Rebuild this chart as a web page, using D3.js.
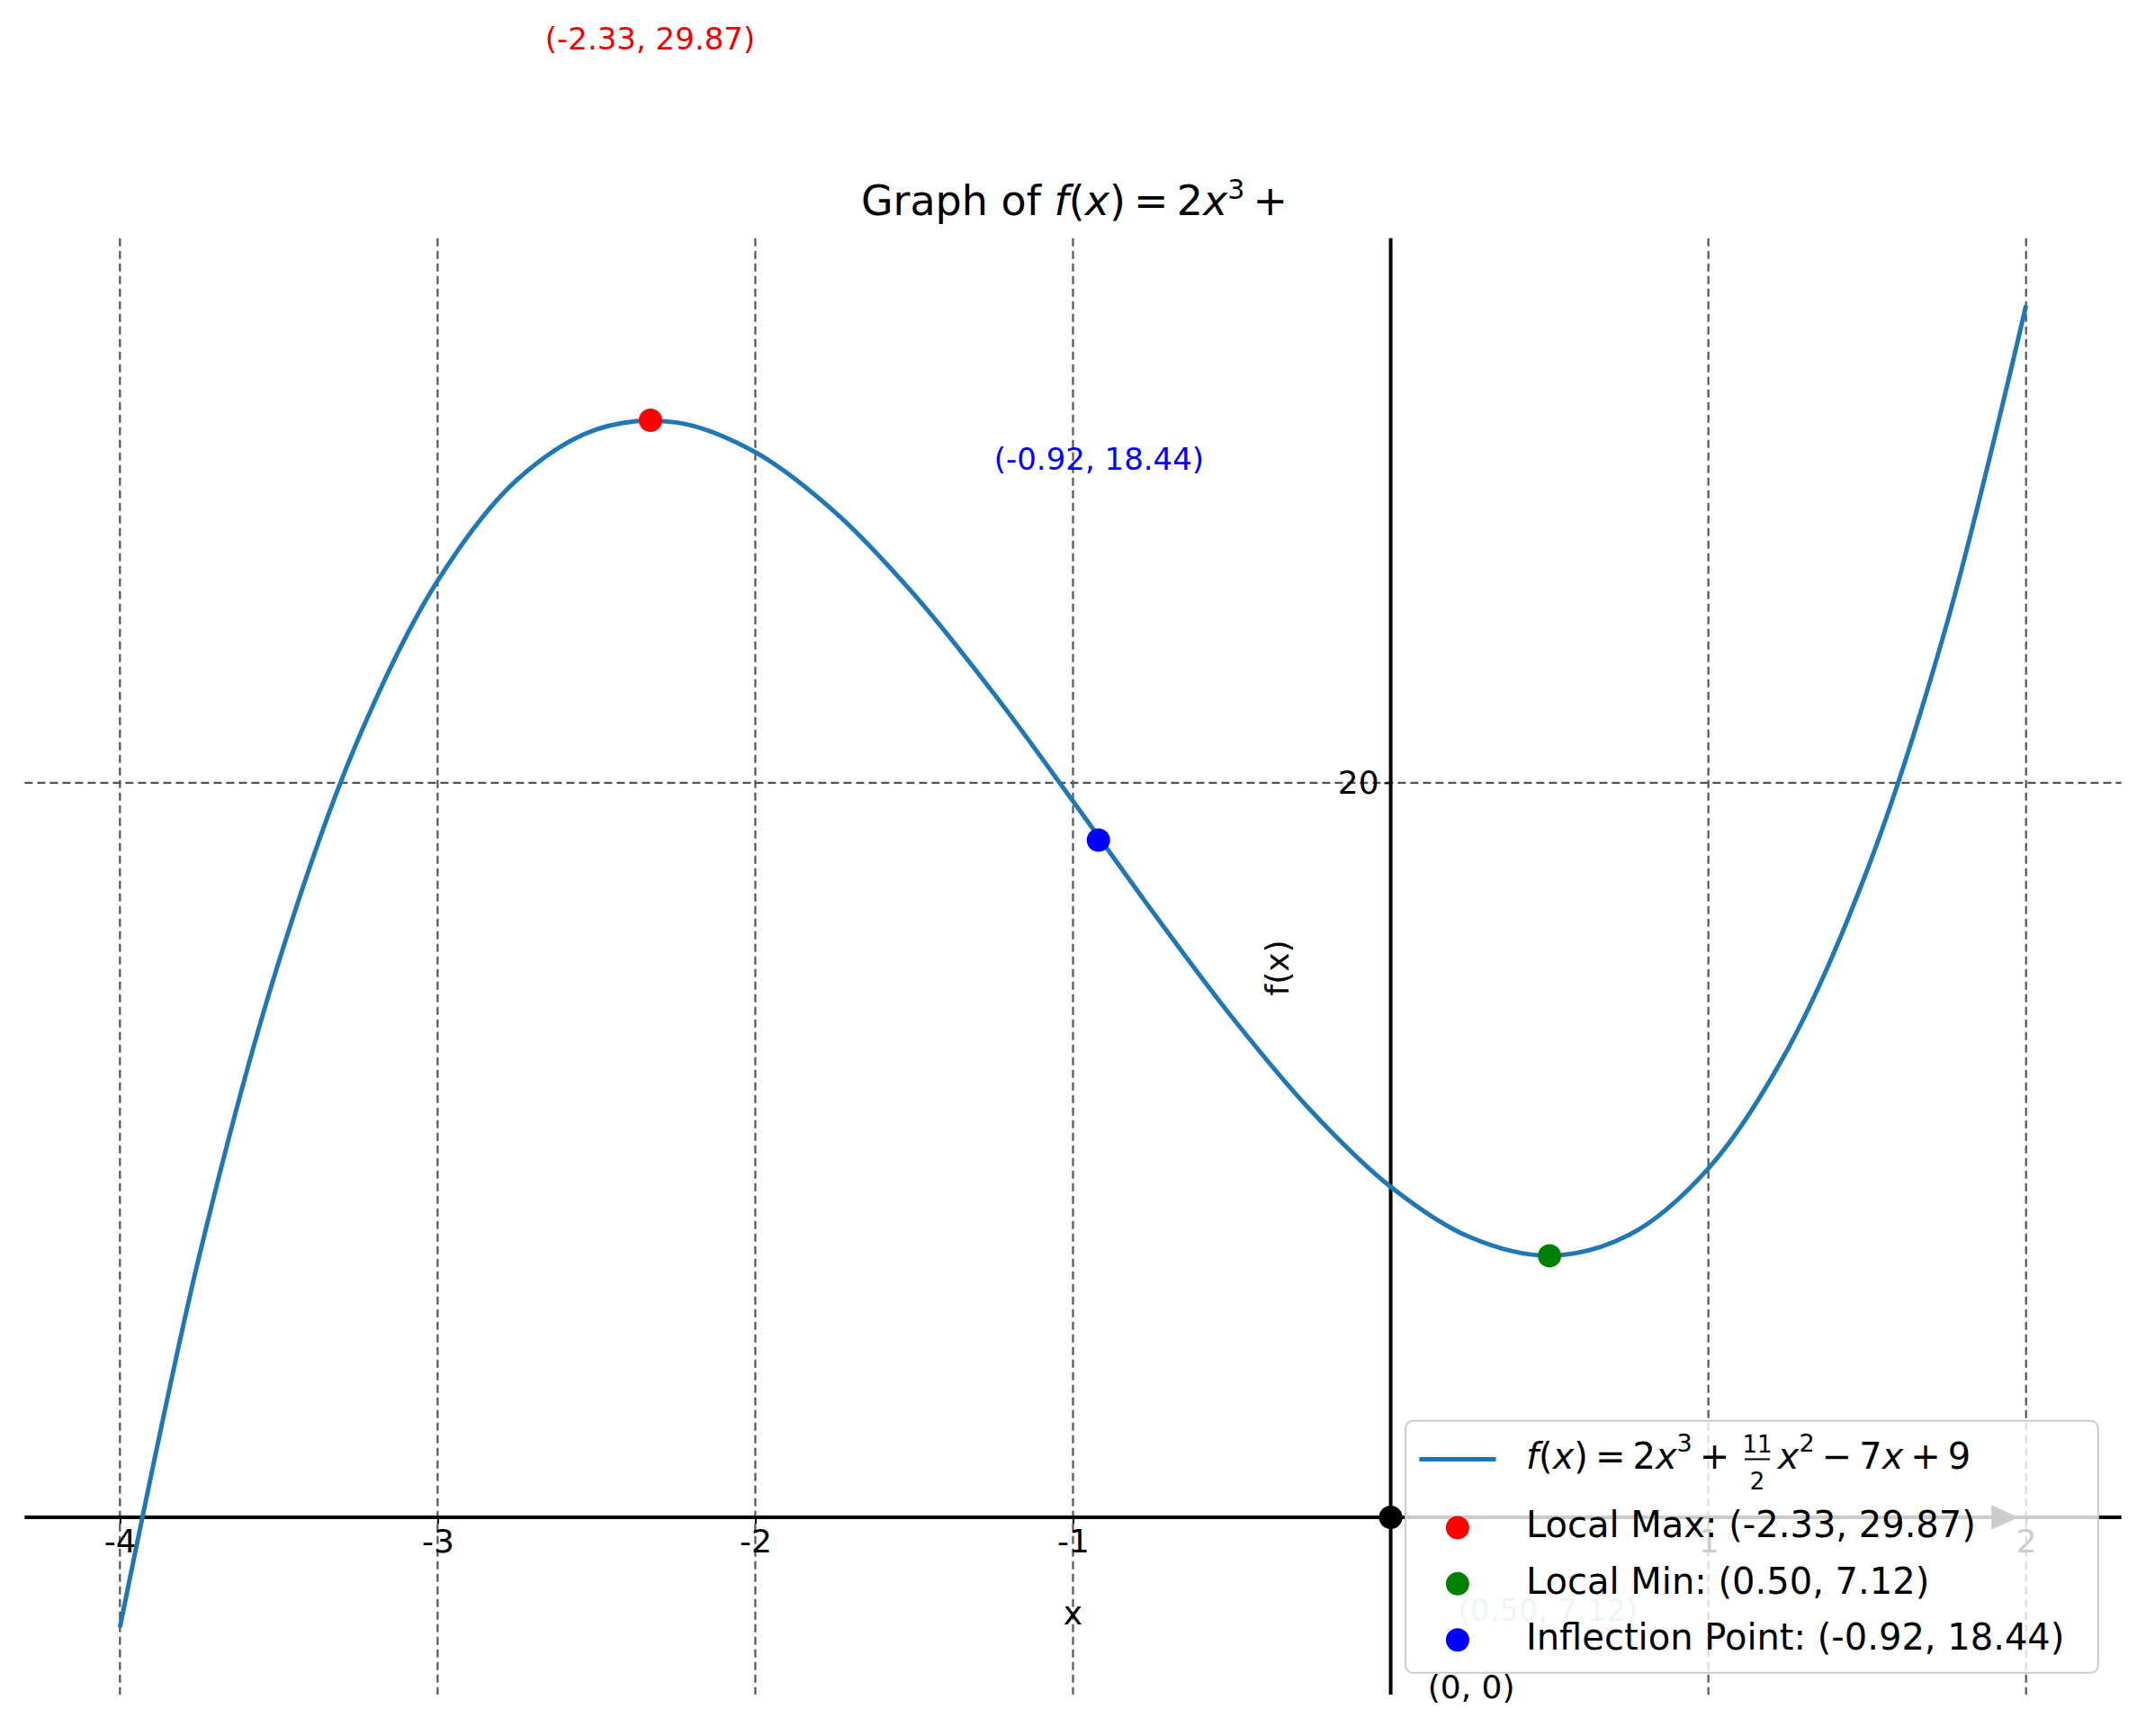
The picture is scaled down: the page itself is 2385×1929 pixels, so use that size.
<!DOCTYPE html>
<html><head><meta charset="utf-8">
<script src="https://cdn.jsdelivr.net/npm/d3@7"></script>
<style>body{margin:0;background:#fff}text{font-family:"DejaVu Sans",sans-serif}</style>
</head><body><svg id="c" width="2385" height="1929"></svg>
<script>
const xs=[-4,-3.75,-3.5,-3.25,-3,-2.75,-2.5,-2.25,-2,-1.75,-1.5,-1.25,-1,-0.75,-0.5,-0.25,0,0.25,0.5,0.75,1,1.25,1.5,1.75,2];
const ys=[-3,7.125,15.125,21.188,25.5,28.25,29.625,29.813,29,27.375,25.125,22.438,19.5,16.5,13.625,11.063,9,7.625,7.125,7.688,9.5,12.75,17.625,24.313,33];
const xTicks=[-4,-3,-2,-1,1,2];
const yTicks=[20];
const points=[{x:-2.33,y:29.87,c:"red",name:"Local Max: (-2.33, 29.87)",lab:"(-2.33, 29.87)"},
{x:0.50,y:7.12,c:"green",name:"Local Min: (0.50, 7.12)",lab:"(0.50, 7.12)"},
{x:-0.92,y:18.44,c:"blue",name:"Inflection Point: (-0.92, 18.44)",lab:"(-0.92, 18.44)"}];
const S=2385/1568;
const svg=d3.select("#c");
const L=18*S,R=1550*S,T=174*S,B=1238*S;
const x=d3.scaleLinear().domain([-4.3,2.3]).range([L,R]);
const y=d3.scaleLinear().domain([-4.83,34.83]).range([B,T]);
svg.selectAll(".gx").data([-4,-3,-2,-1,0,1,2]).join("line").attr("x1",d=>x(d)).attr("x2",d=>x(d)).attr("y1",T).attr("y2",B)
 .attr("stroke","#555").attr("stroke-width",2.2).attr("stroke-dasharray","9,5");
svg.selectAll(".gy").data(yTicks).join("line").attr("x1",L).attr("x2",R).attr("y1",d=>y(d)).attr("y2",d=>y(d))
 .attr("stroke","#555").attr("stroke-width",2.2).attr("stroke-dasharray","9,5");
svg.append("line").attr("x1",L).attr("x2",R).attr("y1",y(0)).attr("y2",y(0)).attr("stroke","#000").attr("stroke-width",4);
svg.append("line").attr("x1",x(0)).attr("x2",x(0)).attr("y1",T).attr("y2",B).attr("stroke","#000").attr("stroke-width",4);
const xa=svg.append("g").attr("transform",`translate(0,${y(0)})`).call(d3.axisBottom(x).tickValues(xTicks).tickFormat(d=>String(d)).tickSize(7).tickPadding(6));
const ya=svg.append("g").attr("transform",`translate(${x(0)},0)`).call(d3.axisLeft(y).tickValues(yTicks).tickFormat(d=>String(d)).tickSize(7).tickPadding(6));
[xa,ya].forEach(a=>{a.select(".domain").remove();a.selectAll("text").attr("font-size",36).attr("font-family","DejaVu Sans");a.selectAll("line").attr("stroke-width",2);});
svg.append("path").attr("d",`M${1455*S},${y(0)-9*S} L${1475*S},${y(0)} L${1455*S},${y(0)+9*S}Z`).attr("fill","#000");
svg.append("path").datum(xs.map((v,i)=>[v,ys[i]])).attr("d",d3.line().x(d=>x(d[0])).y(d=>y(d[1])).curve(d3.curveCatmullRom))
 .attr("fill","none").attr("stroke","#1f77b4").attr("stroke-width",5);
svg.selectAll(".pt").data(points).join("circle").attr("cx",d=>x(d.x)).attr("cy",d=>y(d.y)).attr("r",13).attr("fill",d=>d.c);
svg.append("circle").attr("cx",x(0)).attr("cy",y(0)).attr("r",13).attr("fill","#000");
const lp=[[475,30,"#e00",1],[1131,1178,"green",0.35],[803,337,"blue",1]];
points.forEach((p,i)=>svg.append("text").attr("x",lp[i][0]*S).attr("y",lp[i][1]*S).attr("text-anchor","middle").attr("dominant-baseline","middle")
 .attr("font-size",34).attr("fill",lp[i][2]).attr("opacity",lp[i][3]).text(p.lab));
svg.append("text").attr("x",1075*S).attr("y",1234*S).attr("text-anchor","middle").attr("dominant-baseline","middle").attr("font-size",36).text("(0, 0)");
svg.append("text").attr("x",x(-1)).attr("y",1180*S).attr("text-anchor","middle").attr("dominant-baseline","middle").attr("font-size",36).text("x");
svg.append("text").attr("transform",`translate(${935*S},${707*S}) rotate(-90)`).attr("text-anchor","middle").attr("dominant-baseline","middle").attr("font-size",36).text("f(x)");
const t=svg.append("text").attr("x",785*S).attr("y",157*S).attr("text-anchor","middle").attr("font-size",46);
t.append("tspan").text("Graph of ");t.append("tspan").attr("font-style","italic").text("f");t.append("tspan").text("(");
t.append("tspan").attr("font-style","italic").text("x");t.append("tspan").text(")\u2009=\u20092");t.append("tspan").attr("font-style","italic").text("x");
t.append("tspan").attr("font-size",30).attr("dy",-18).text("3");t.append("tspan").attr("dy",18).text("\u2009+");
const lg=svg.append("g");
lg.append("rect").attr("x",1027*S).attr("y",1038*S).attr("width",506*S).attr("height",184*S).attr("rx",8).attr("fill","#fff").attr("fill-opacity",0.8).attr("stroke","#ccc").attr("stroke-width",2);
lg.append("line").attr("x1",1037*S).attr("x2",1093*S).attr("y1",1066*S).attr("y2",1066*S).attr("stroke","#1f77b4").attr("stroke-width",5);
const lt=lg.append("text").attr("x",1115*S).attr("y",1066*S).attr("dominant-baseline","middle").attr("font-size",40);
lt.append("tspan").attr("font-style","italic").text("f");lt.append("tspan").text("(");lt.append("tspan").attr("font-style","italic").text("x");
lt.append("tspan").text(")\u2009=\u20092");lt.append("tspan").attr("font-style","italic").text("x");
lt.append("tspan").attr("font-size",27).attr("dy",-16).text("3");lt.append("tspan").attr("dy",16).text("\u2009+\u2009");
const fx=1284*S;
lg.append("text").attr("x",fx).attr("y",1061*S).attr("text-anchor","middle").attr("font-size",26).text("11");
lg.append("line").attr("x1",fx-14).attr("x2",fx+14).attr("y1",1066*S).attr("y2",1066*S).attr("stroke","#000").attr("stroke-width",2);
lg.append("text").attr("x",fx).attr("y",1088*S).attr("text-anchor","middle").attr("font-size",26).text("2");
const lt2=lg.append("text").attr("x",1299*S).attr("y",1066*S).attr("dominant-baseline","middle").attr("font-size",40);
lt2.append("tspan").attr("font-style","italic").text("x");lt2.append("tspan").attr("font-size",27).attr("dy",-16).text("2");
lt2.append("tspan").attr("dy",16).text("\u2009\u2212\u20097");lt2.append("tspan").attr("font-style","italic").text("x");lt2.append("tspan").text("\u2009+\u20099");
points.forEach((p,i)=>{const yy=[1116,1157,1198][i]*S;
 lg.append("circle").attr("cx",1065*S).attr("cy",yy).attr("r",13).attr("fill",p.c);
 lg.append("text").attr("x",1115*S).attr("y",yy).attr("dominant-baseline","middle").attr("font-size",40).text(p.name);});
</script></body></html>
